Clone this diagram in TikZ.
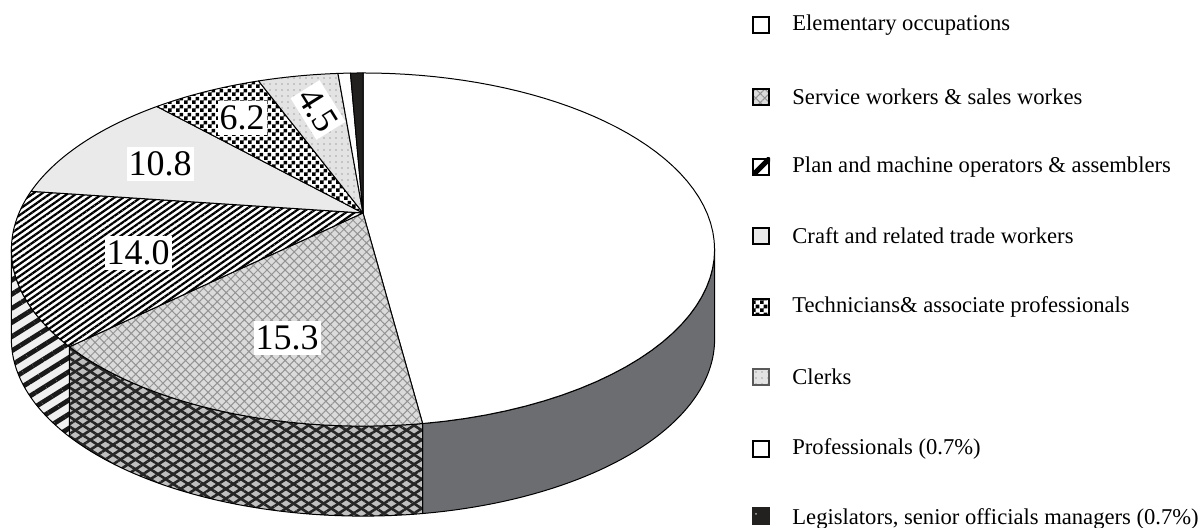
\documentclass[tikz,border=0pt]{standalone}
\usepackage{fontspec}
\setmainfont{Liberation Serif}
\usetikzlibrary{patterns,patterns.meta}
\pgfdeclarepatternformonly{smallcheck}{\pgfpointorigin}{\pgfpoint{4pt}{4pt}}{\pgfpoint{4pt}{4pt}}{%
  \pgfpathrectangle{\pgfpointorigin}{\pgfpoint{2pt}{2pt}}%
  \pgfpathrectangle{\pgfpoint{2pt}{2pt}}{\pgfpoint{2pt}{2pt}}%
  \pgfusepath{fill}}
\definecolor{sidegray}{RGB}{108,109,113}
\definecolor{craftgray}{RGB}{234,234,234}
\definecolor{legdark}{RGB}{35,32,32}
\newcommand\pietop[3]{\path[edge,#3] (363,315) -- plot[domain=#1:#2,samples=60,variable=\t] ({rimx(\t)},{rimy(\t)}) -- cycle;}
\newcommand\pieside[3]{\path[edge,#3] plot[domain=#1:#2,samples=50,variable=\t] ({rimx(\t)},{rimy(\t)}) -- plot[domain=#2:#1,samples=50,variable=\t] ({rimx(\t)},{rimy(\t)-90}) -- cycle;}
\begin{document}
\begin{tikzpicture}[x=0.5pt,y=0.5pt,
  declare function={rimx(\t)=363+344*sin(\t)/(1+0.207*cos(\t)); rimy(\t)=315+169*cos(\t)/(1+0.207*cos(\t));},
  edge/.style={draw=black,line width=0.5pt,line join=round},
  elemtop/.style={fill=white},
  elemside/.style={fill=sidegray},
  servtop/.style={preaction={fill=gray!28},pattern={Hatch[angle=45,distance=3.2pt,line width=0.5pt]},pattern color=gray!85},
  servside/.style={preaction={fill=gray!50},preaction={pattern={Lines[angle=33,distance=4.1pt,line width=1.3pt]},pattern color=black!85},pattern={Lines[angle=-33,distance=4.1pt,line width=1.3pt]},pattern color=black!85},
  plantop/.style={preaction={fill=white},pattern={Lines[angle=35,distance=2.5pt,line width=1.1pt]},pattern color=black},
  planside/.style={preaction={fill=gray!12},pattern={Lines[angle=32,distance=6pt,line width=2.4pt]},pattern color=black!90},
  crafttop/.style={fill=craftgray},
  techtop/.style={preaction={fill=white},pattern=smallcheck,pattern color=black},
  clerktop/.style={preaction={fill=gray!22},pattern={Dots[distance=3pt,radius=0.4pt]},pattern color=gray!70},
  proftop/.style={fill=white},
  legtop/.style={preaction={fill=legdark},pattern={Dots[distance=7pt,radius=0.5pt]},pattern color=white!70!black},
  lab/.style={fill=white,font=\fontsize{18}{18}\selectfont,inner xsep=1pt,inner ysep=2.5pt},
  legbox/.style={draw=black,line width=1pt,minimum size=8pt,inner sep=0pt},
  legtext/.style={anchor=west,font=\fontsize{11.3}{13}\selectfont,inner sep=0pt}]
\useasboundingbox (0,0) rectangle (1200,528);
% sides
\pieside{101.95}{172.08}{elemside}
\pieside{172.08}{227.16}{servside}
\pieside{227.16}{258.05}{planside}
% tops
\pietop{0}{172.08}{elemtop}
\pietop{172.08}{227.16}{servtop}
\pietop{227.16}{277.56}{plantop}
\pietop{277.56}{316.44}{crafttop}
\pietop{316.44}{338.76}{techtop}
\pietop{338.76}{354.96}{clerktop}
\pietop{354.96}{357.48}{proftop}
\pietop{357.48}{360}{legtop}
% labels
\node[lab] (v108) at (160,364) {10.8};
\node[lab] (v62) at (242,410) {6.2};
\node[lab,rotate=-58] (v45) at (318,418) {4.5};
\node[lab] (v140) at (138,275) {14.0};
\node[lab] (v153) at (287,190) {15.3};
% legend
\node[legbox,fill=white] (b1) at (761,503) {};
\node[legtext] (t1) at (792,503) {Elementary occupations};
\node[legbox,servtop] (b2) at (761,431) {};
\node[legtext] (t2) at (792,431) {Service workers \& sales workes};
\node[legbox,fill=white] (b3) at (761,361) {};
\begin{scope}
\clip (b3.south west) rectangle (b3.north east);
\draw[line width=2.6pt] (b3.south west) -- (b3.north east);
\end{scope}
\node[legbox] (b3b) at (761,361) {};
\node[legtext] (t3) at (792,361) {Plan and machine operators \& assemblers};
\node[legbox,fill=craftgray] (b4) at (761,292) {};
\node[legtext] (t4) at (792,292) {Craft and related trade workers};
\node[legbox,techtop] (b5) at (761,221) {};
\node[legtext] (t5) at (792,221) {Technicians\& associate professionals};
\node[legbox,clerktop,draw=gray!70!black] (b6) at (761,151) {};
\node[legtext] (t6) at (792,151) {Clerks};
\node[legbox,fill=white] (b7) at (761,79) {};
\node[legtext] (t7) at (792,79) {Professionals (0.7\%)};
\node[legbox,legtop,draw=legdark] (b8) at (761,12) {};
\node[legtext] (t8) at (792,9) {Legislators, senior officials managers (0.7\%)};
\end{tikzpicture}
\end{document}
